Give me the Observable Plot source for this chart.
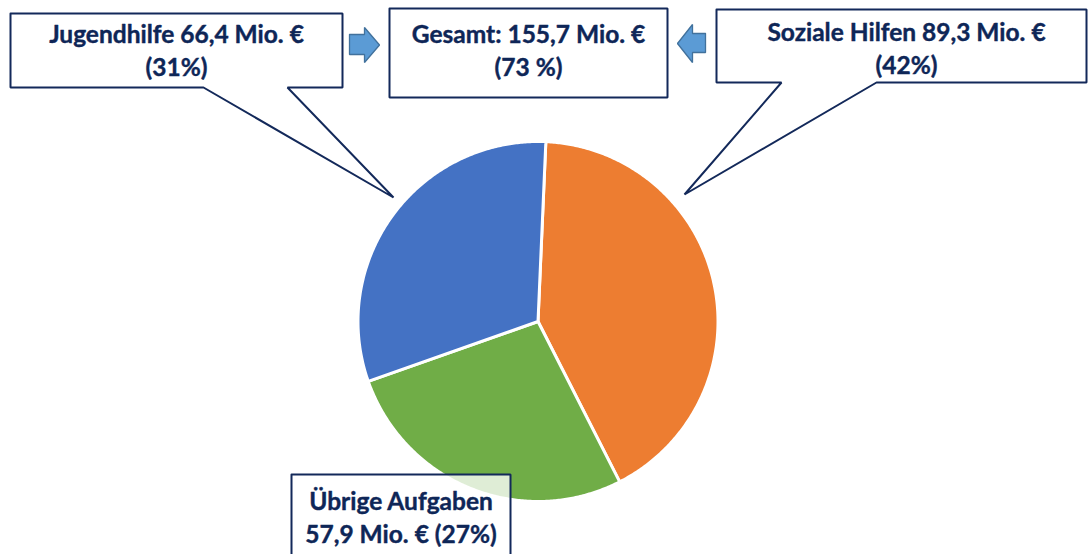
<!DOCTYPE html>
<html><head><meta charset="utf-8">
<script src="https://cdn.jsdelivr.net/npm/d3@7"></script>
<script src="https://cdn.jsdelivr.net/npm/@observablehq/plot@0.6"></script>
<style>html,body{margin:0;padding:0;background:#fff;overflow:hidden}</style>
</head><body><div id="chart"></div>
<script>
// ---- data ----
const categories = ["Soziale Hilfen", "Übrige Aufgaben", "Jugendhilfe"];
const values = [89.3, 57.9, 66.4];
const percents = [42, 27, 31];
const sliceColors = ["#ED7D31", "#70AD47", "#4472C4"];
const totalValue = 155.7;
const totalPercent = 73;

const de = v => v.toFixed(1).replace(".", ",");
const labelLines = [
  `${categories[0]} ${de(values[0])} Mio. €\n(${percents[0]}%)`,
  `${categories[1]}\n${de(values[1])} Mio. € (${percents[1]}%)`,
  `${categories[2]} ${de(values[2])} Mio. €\n(${percents[2]}%)`
];
const totalLabel = `Gesamt: ${de(totalValue)} Mio. €\n(${totalPercent} %)`;

// ---- layout (pixels) ----
const W = 1089, H = 554;
const cx = 537.5, cy = 321, R = 180;
const rad = d => d * Math.PI / 180;
const navy = "#13295A";
const textColor = "#0E2657";

const arcs = d3.pie().sort(null).startAngle(rad(2.5)).endAngle(rad(362.5))(values);
const slices = arcs.map((a, i) => {
  const pts = [[cx, cy]];
  const n = Math.max(2, Math.ceil((a.endAngle - a.startAngle) / rad(0.5)));
  for (let k = 0; k <= n; k++) {
    const t = a.startAngle + (a.endAngle - a.startAngle) * k / n;
    pts.push([cx + R * Math.sin(t), cy - R * Math.cos(t)]);
  }
  pts.push([cx, cy]);
  return {pts, color: sliceColors[i]};
});

const callouts = [
  {pts: [[716,9],[1086,9],[1086,82],[876,82],[684,194],[781,82],[716,82],[716,9]], fill: "white", op: 1},
  {pts: [[10,13],[342,13],[342,87],[287,87],[393,197],[203,87],[10,87],[10,13]], fill: "white", op: 1},
  {pts: [[389,8],[667,8],[667,97],[389,97],[389,8]], fill: "white", op: 1},
  {pts: [[291,474],[510,474],[510,570],[291,570],[291,474]], fill: "white", op: 0.78}
];
const arrows = [
  [[349,34],[364,34],[364,27],[379,44.5],[364,62],[364,54],[349,54],[349,34]],
  [[705,33],[692,33],[692,24],[677,43],[692,62],[692,52],[705,52],[705,33]]
];
const labels = [
  {x: 906, y: 46, text: labelLines[0]},
  {x: 400.5, y: 515.5, text: labelLines[1]},
  {x: 176, y: 48, text: labelLines[2]},
  {x: 528, y: 48.5, text: totalLabel}
];

const marks = [];
slices.forEach(s => marks.push(Plot.line(s.pts, {x: d => d[0], y: d => d[1], fill: s.color, stroke: "white", strokeWidth: 3, strokeLinejoin: "round", curve: "linear"})));
callouts.forEach(c => marks.push(Plot.line(c.pts, {x: d => d[0], y: d => d[1], fill: c.fill, fillOpacity: c.op, stroke: navy, strokeWidth: 2, strokeLinejoin: "miter"})));
arrows.forEach(a => marks.push(Plot.line(a, {x: d => d[0], y: d => d[1], fill: "#5B9BD5", stroke: "#41719C", strokeWidth: 1.3, strokeLinejoin: "miter"})));
marks.push(Plot.text(labels, {x: "x", y: "y", text: "text", fontSize: 24.5, fontWeight: "bold", fill: textColor, lineHeight: 1.35, textAnchor: "middle", lineAnchor: "middle", stroke: textColor, strokeWidth: 0.4}));

const chart = Plot.plot({
  width: W, height: H,
  margin: 0,
  x: {domain: [0, W], range: [0, W], axis: null},
  y: {domain: [0, H], range: [0, H], axis: null},
  style: {fontFamily: "Lato, 'Open Sans', sans-serif", background: "white"},
  marks
});
document.getElementById("chart").appendChild(chart);
</script>
</body></html>
